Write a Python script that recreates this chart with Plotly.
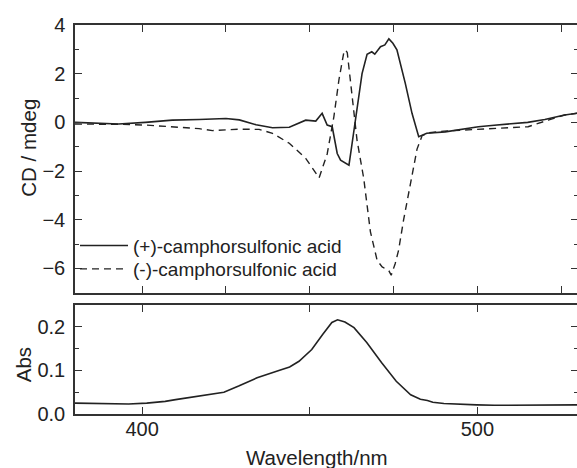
import plotly.graph_objects as go

# ---- data ----
wl_plus = [380, 387, 393, 401, 409, 417, 425, 429, 434, 438.9, 443.9, 448.8, 451.8, 453.7,
           455.2, 456.7, 458.2, 459.2, 460.7, 461.7, 462.6, 463.7, 465.6, 467.1, 468.5,
           469.4, 471.1, 472.4, 473.6, 474.8, 476.0, 478.5, 480.5, 482.5, 483.7, 484.9,
           490.4, 495, 500.3, 505, 510.2, 515, 520.1, 526, 530]
cd_plus = [0.0, -0.04, -0.07, 0.0, 0.09, 0.12, 0.16, 0.1, -0.1, -0.22, -0.2, 0.09, 0.05, 0.37,
           -0.11, -0.18, -1.28, -1.55, -1.69, -1.76, -0.9, 0.23, 2.0, 2.8, 2.9,
           2.8, 3.11, 3.18, 3.43, 3.25, 2.98, 1.6, 0.37, -0.59, -0.52, -0.45,
           -0.39, -0.28, -0.18, -0.12, -0.07, 0.0, 0.12, 0.3, 0.38]

wl_minus = [380, 387, 393, 401, 409, 417, 421, 429, 434.9, 438.9, 443.9, 448.8, 452.8, 455.2,
            457.2, 458.7, 460.2, 460.7, 461.2, 462.6, 464.1, 466.1, 468.1, 470.1, 471.6,
            473.6, 474.3, 475.5, 476.5, 478, 480, 482, 483.5, 485.4, 490, 495.3, 505.2,
            515.1, 521.1, 526, 530]
cd_minus = [-0.07, -0.07, -0.08, -0.11, -0.18, -0.26, -0.34, -0.28, -0.29, -0.45, -0.86, -1.48, -2.28, -1.3,
            0.23, 1.74, 2.9, 2.97, 2.86, 1.05, -0.73, -2.3, -4.5, -5.67, -5.94,
            -6.1, -6.28, -5.8, -5.25, -4.0, -2.5, -1.1, -0.55, -0.43, -0.36, -0.32, -0.25,
            -0.18, 0.09, 0.3, 0.38]

wl_abs = [380, 385, 390.5, 396, 401.4, 406.9, 410, 414.6, 420, 424.4, 428.8, 434.3, 440.8, 444,
          446.8, 450.6, 453.9, 456.6, 458.3, 460.5, 463.2, 467, 471.4, 475.8, 480.1, 483,
          485.1, 486.7, 490, 495, 499.8, 505, 510.8, 520, 530]
absorb = [0.025, 0.024, 0.023, 0.023, 0.025, 0.029, 0.033, 0.039, 0.045, 0.05, 0.064, 0.083, 0.1, 0.108,
          0.121, 0.148, 0.183, 0.21, 0.216, 0.211, 0.198, 0.164, 0.118, 0.075, 0.044, 0.034,
          0.031, 0.027, 0.024, 0.022, 0.021, 0.02, 0.02, 0.021, 0.021]

series_names = ["(+)-camphorsulfonic acid", "(-)-camphorsulfonic acid"]
top_y_ticks = [-6, -4, -2, 0, 2, 4]
top_x_ticks = [400, 425, 450, 475, 500, 525]
bottom_x_ticks = [400, 450, 500]
bottom_x_labels = ["400", "", "500"]
bottom_y_ticks = [0.0, 0.1, 0.2]
bottom_y_labels = ["0.0", "0.1", "0.2"]

FONT = "Liberation Sans, Arial, sans-serif"
INK = "#222222"
XR = [380, 530]

W, H = 580, 468
ML, MR, MT, MB = 75, 0, 25, 54
PLOT_W = W - ML - MR
PLOT_H = H - MT - MB


def xpaper(px):
    return (px - ML) / PLOT_W


def ypaper(px):
    return (H - MB - px) / PLOT_H


fig = go.Figure()
fig.add_trace(go.Scatter(x=wl_plus, y=cd_plus, mode="lines", name=series_names[0],
                         line=dict(color=INK, width=1.6), xaxis="x", yaxis="y",
                         legend="legend"))
fig.add_trace(go.Scatter(x=wl_minus, y=cd_minus, mode="lines", name=series_names[1],
                         line=dict(color=INK, width=1.4, dash="7px,5px"), xaxis="x", yaxis="y",
                         legend="legend2"))
fig.add_trace(go.Scatter(x=wl_abs, y=absorb, mode="lines", showlegend=False,
                         line=dict(color=INK, width=1.6), xaxis="x2", yaxis="y2"))

axis_common = dict(showline=True, linecolor="#333333", linewidth=1.5, mirror="ticks",
                   ticks="inside", tickcolor="#333333", tickwidth=1.3, ticklen=7,
                   showgrid=False, zeroline=False,
                   tickfont=dict(family=FONT, size=20, color=INK))

legend_common = dict(xanchor="left", yanchor="middle", bgcolor="rgba(0,0,0,0)",
                     borderwidth=0, font=dict(family=FONT, size=19, color=INK),
                     itemwidth=48)

fig.update_layout(
    width=W, height=H, autosize=False,
    margin=dict(l=ML, r=MR, t=MT, b=MB),
    paper_bgcolor="white", plot_bgcolor="white",
    showlegend=True,
    legend=dict(x=0.0, y=ypaper(245.7), **legend_common),
    legend2=dict(x=0.0, y=ypaper(269), **legend_common),
    xaxis=dict(domain=[0, 1], anchor="y", range=XR, tickmode="array", tickvals=top_x_ticks,
               showticklabels=False, **axis_common),
    yaxis=dict(domain=[ypaper(292.7), 1], anchor="x", range=[-7, 4], tickmode="array",
               tickvals=top_y_ticks, ticklabelstandoff=4,
               minor=dict(tickmode="linear", tick0=-7, dtick=1, ticks="inside", ticklen=4,
                          tickcolor="#333333"),
               **axis_common),
    xaxis2=dict(domain=[0, 1], anchor="y2", range=XR, tickmode="array", tickvals=bottom_x_ticks,
                ticktext=bottom_x_labels, ticklabelstandoff=-4, **axis_common),
    yaxis2=dict(domain=[0, ypaper(305)], anchor="x2", range=[0, 0.25], tickmode="array",
                tickvals=bottom_y_ticks, ticktext=bottom_y_labels, ticklabelstandoff=4,
                minor=dict(tickmode="linear", tick0=0, dtick=0.05, ticks="inside", ticklen=4,
                           tickcolor="#333333"),
                **axis_common),
    annotations=[
        dict(text="CD / mdeg", xref="paper", yref="paper", x=xpaper(28), y=ypaper(147.5),
             textangle=-90, showarrow=False, xanchor="center", yanchor="middle",
             font=dict(family=FONT, size=20.5, color=INK)),
        dict(text="Abs", xref="paper", yref="paper", x=xpaper(23), y=ypaper(365),
             textangle=-90, showarrow=False, xanchor="center", yanchor="middle",
             font=dict(family=FONT, size=20.5, color=INK)),
        dict(text="Wavelength/nm", xref="paper", yref="paper", x=xpaper(318),
             y=ypaper(457.7), showarrow=False, xanchor="center", yanchor="middle",
             font=dict(family=FONT, size=20.5, color=INK)),
    ],
)

fig.write_html("out.html", config={"displayModeBar": False},
               post_script="document.body.style.margin='0';document.body.style.padding='0';"
                           "document.body.style.overflow='hidden';"
                           "document.documentElement.style.overflow='hidden';")
